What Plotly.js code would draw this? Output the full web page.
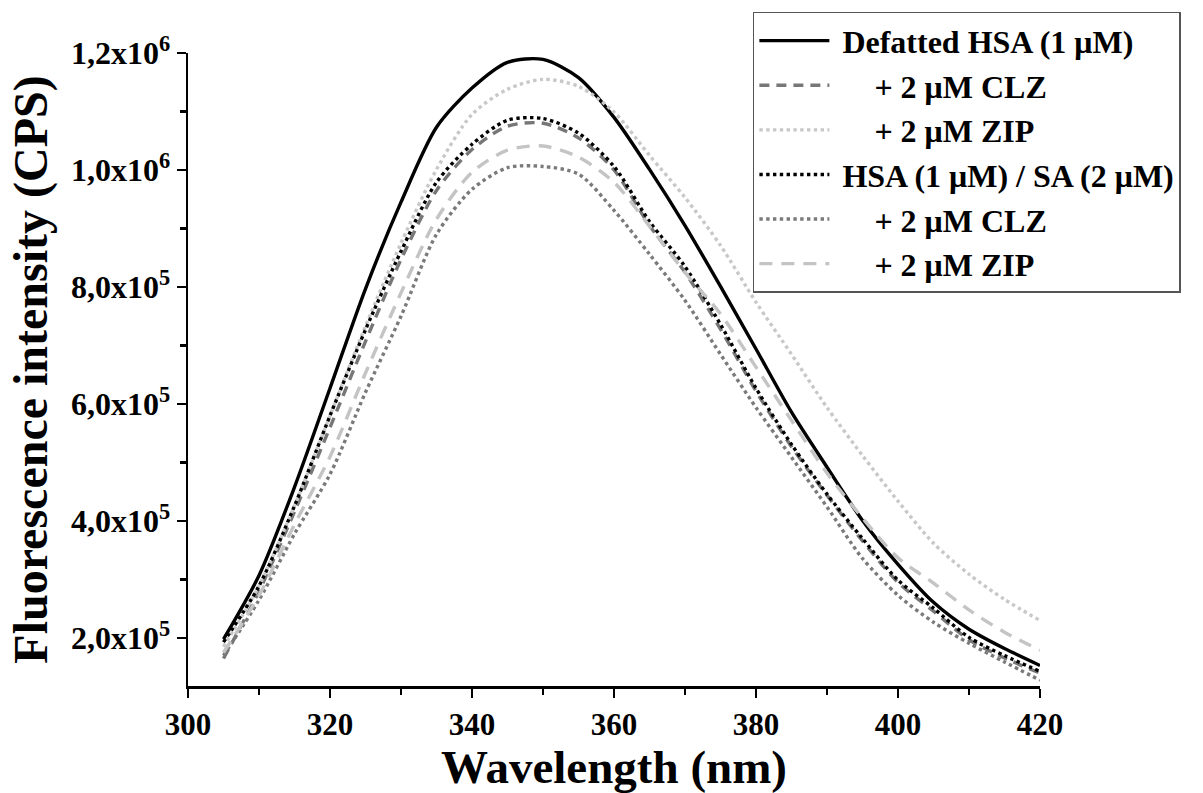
<!DOCTYPE html>
<html>
<head>
<meta charset="utf-8">
<script src="https://cdn.plot.ly/plotly-3.0.1.min.js"></script>
<style>html,body{margin:0;padding:0;background:#fff}#chart{width:1203px;height:793px}</style>
</head>
<body>
<div id="chart"></div>
<script>
const wavelength = [305,310,315,320,325,330,335,340,345,350,355,360,365,370,375,380,385,390,395,400,405,410,415,420];

const defattedHSA = [1.98e5,3.07e5,4.58e5,6.27e5,7.97e5,9.45e5,1.073e6,1.14e6,1.184e6,1.189e6,1.158e6,1.09e6,1.001e6,0.905e6,0.801e6,0.694e6,0.586e6,0.492e6,0.401e6,0.326e6,0.261e6,0.215e6,0.182e6,0.153e6];
const defattedCLZ = [1.65e5,2.8e5,4.16e5,5.6e5,7.07e5,8.47e5,9.65e5,1.035e6,1.075e6,1.08e6,1.055e6,1.0e6,0.905e6,0.825e6,0.728e6,0.622e6,0.527e6,0.444e6,0.366e6,0.295e6,0.246e6,0.197e6,0.166e6,0.14e6];
const defattedZIP = [1.85e5,2.89e5,4.26e5,5.8e5,7.33e5,8.75e5,1.001e6,1.095e6,1.138e6,1.155e6,1.143e6,1.099e6,1.025e6,0.953e6,0.871e6,0.774e6,0.685e6,0.594e6,0.512e6,0.434e6,0.362e6,0.309e6,0.266e6,0.23e6];
const hsaSA = [1.93e5,2.89e5,4.26e5,5.8e5,7.27e5,8.61e5,9.79e5,1.044e6,1.085e6,1.088e6,1.063e6,1.006e6,0.912e6,0.835e6,0.736e6,0.627e6,0.531e6,0.446e6,0.37e6,0.299e6,0.251e6,0.201e6,0.17e6,0.143e6];
const hsaSACLZ = [1.7e5,2.65e5,3.78e5,4.8e5,6.2e5,7.5e5,8.9e5,9.67e5,1.004e6,1.006e6,0.993e6,0.931e6,0.856e6,0.777e6,0.685e6,0.594e6,0.509e6,0.424e6,0.336e6,0.273e6,0.227e6,0.191e6,0.159e6,0.128e6];
const hsaSAZIP = [1.75e5,2.73e5,3.94e5,5.1e5,6.53e5,7.9e5,9.16e5,9.96e5,1.034e6,1.041e6,1.022e6,0.979e6,0.904e6,0.825e6,0.754e6,0.663e6,0.572e6,0.482e6,0.405e6,0.337e6,0.294e6,0.248e6,0.21e6,0.179e6];

const seriesNames = ["\u00a0Defatted HSA (1 \u03bcM)","\u00a0\u00a0\u00a0\u00a0\u00a0+ 2 \u03bcM CLZ","\u00a0\u00a0\u00a0\u00a0\u00a0+ 2 \u03bcM ZIP","\u00a0HSA (1 \u03bcM) / SA (2 \u03bcM)","\u00a0\u00a0\u00a0\u00a0\u00a0+ 2 \u03bcM CLZ","\u00a0\u00a0\u00a0\u00a0\u00a0+ 2 \u03bcM ZIP"];

const yTickVals = [2e5,4e5,6e5,8e5,1e6,1.2e6];
const yTickText = ["2,0x10<sup>5</sup>","4,0x10<sup>5</sup>","6,0x10<sup>5</sup>","8,0x10<sup>5</sup>","1,0x10<sup>6</sup>","1,2x10<sup>6</sup>"];
const yMinorVals = [3e5,5e5,7e5,9e5,1.1e6];
const xTickVals = [300,320,340,360,380,400,420];
const xMinorVals = [310,330,350,370,390,410];

const styles = [
  {color:"#000000", dash:"solid", width:3.4},
  {color:"#777777", dash:"10px,7px", width:3.4},
  {color:"#c8c8c8", dash:"dot", width:3.4},
  {color:"#000000", dash:"dot", width:3.4},
  {color:"#7a7a7a", dash:"dot", width:3.4},
  {color:"#c4c4c4", dash:"13px,9px", width:3.4}
];
const ys = [defattedHSA, defattedCLZ, defattedZIP, hsaSA, hsaSACLZ, hsaSAZIP];

const traces = ys.map((y,i)=>({
  x: wavelength, y: y, type:"scatter", mode:"lines",
  name: seriesNames[i], legendgroup: "g"+i,
  line: {color:styles[i].color, dash:styles[i].dash, width:styles[i].width, shape:"spline", smoothing:0.8}
}));

const font = "Liberation Serif, Times New Roman, serif";
const layout = {
  width:1203, height:793,
  margin:{l:188, r:163, t:51, b:107},
  paper_bgcolor:"#fff", plot_bgcolor:"#fff",
  font:{family:font, color:"#000"},
  showlegend:true,
  legend:{
    x:0.663, y:1.065, xanchor:"left", yanchor:"top",
    bgcolor:"#fff", bordercolor:"#555", borderwidth:1.5,
    font:{family:font, size:32, color:"#000", weight:"bold"},
    itemwidth:70, tracegroupgap:0, traceorder:"normal"
  },
  xaxis:{
    range:[300,420], tickmode:"array", tickvals:xTickVals, ticktext:xTickVals.map(String),
    showline:true, linecolor:"#000", linewidth:2.5, mirror:false,
    ticks:"outside", ticklen:9, tickwidth:2.5, tickcolor:"#000",
    minor:{tickmode:"array", tickvals:xMinorVals, ticks:"outside", ticklen:6, tickwidth:2.5, tickcolor:"#000"},
    showgrid:false, zeroline:false,
    tickfont:{family:font, size:31, weight:"bold"},
    title:{text:"Wavelength (nm)", font:{family:font, size:47, weight:"bold"}, standoff:6}
  },
  yaxis:{
    range:[1.18e5,1.2e6], tickmode:"array", tickvals:yTickVals, ticktext:yTickText,
    showline:true, linecolor:"#000", linewidth:2.5, mirror:false,
    ticks:"outside", ticklen:9, tickwidth:2.5, tickcolor:"#000",
    minor:{tickmode:"array", tickvals:yMinorVals, ticks:"outside", ticklen:6, tickwidth:2.5, tickcolor:"#000"},
    showgrid:false, zeroline:false,
    tickfont:{family:font, size:32, weight:"bold"},
    title:{text:"Fluorescence intensity (CPS)", font:{family:font, size:48, weight:"bold"}, standoff:8}
  }
};
Plotly.newPlot("chart", traces, layout, {displayModeBar:false, staticPlot:true});
</script>
</body>
</html>
